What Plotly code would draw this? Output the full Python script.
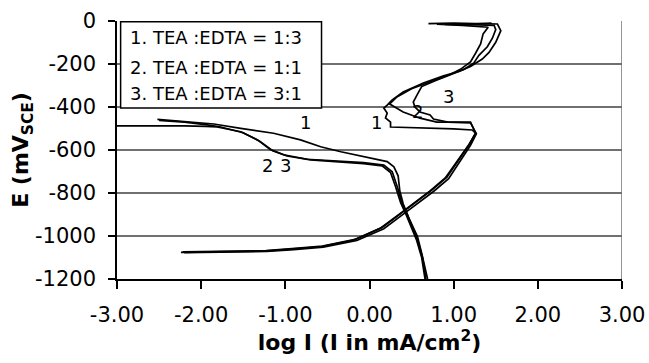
import plotly.graph_objects as go

# Series names (legend box text)
series_names = ["1. TEA :EDTA = 1:3", "2. TEA :EDTA = 1:1", "3. TEA :EDTA = 3:1"]

# Axis ticks
x_ticks = [-3, -2, -1, 0, 1, 2, 3]
x_tick_text = ["-3.00", "-2.00", "-1.00", "0.00", "1.00", "2.00", "3.00"]
y_ticks = [0, -200, -400, -600, -800, -1000, -1200]
y_tick_text = ["0", "-200", "-400", "-600", "-800", "-1000", "-1200"]

# Branch A: from corrosion potential down to -1200 mV (log I, E in mV)
logi_a1 = [-2.52, -2.21, -1.85, -1.53, -1.14, -0.82, -0.58, -0.34, -0.07, 0.12, 0.21, 0.29,
           0.34, 0.36, 0.40, 0.46, 0.52, 0.57, 0.62, 0.66, 0.69]
e_a1 = [-458, -468, -479, -499, -522, -553, -585, -608, -631, -645, -654, -678,
        -720, -790, -850, -910, -960, -1003, -1080, -1150, -1200]

logi_a2 = [-3.10, -2.60, -2.20, -1.95, -1.81, -1.53, -1.33, -1.18, -1.02, -0.74, -0.34, -0.07,
           0.17, 0.27, 0.33, 0.38, 0.45, 0.52, 0.58, 0.63, 0.67]
e_a2 = [-488, -487, -488, -490, -493, -515, -553, -598, -622, -643, -652, -659,
        -670, -701, -771, -840, -900, -970, -1030, -1100, -1200]

logi_a3 = [-2.50, -2.20, -1.95, -1.78, -1.50, -1.30, -1.15, -0.98, -0.70, -0.34, -0.07, 0.15,
           0.25, 0.31, 0.37, 0.44, 0.50, 0.56, 0.62, 0.66]
e_a3 = [-462, -470, -482, -492, -520, -560, -603, -628, -646, -656, -663, -674,
        -705, -771, -845, -905, -960, -1020, -1100, -1200]

# Branch B: from -1076 mV up through the active/passive loop to 0 mV
logi_b1 = [-2.24, -1.60, -1.25, -0.94, -0.58, -0.19, 0.13, 0.37, 0.61, 0.72, 0.90, 1.08,
           1.18, 1.26, 1.22, 1.00, 0.61, 0.25, 0.25, 0.19, 0.21, 0.17, 0.21, 0.27, 0.40,
           0.64, 0.88, 1.06, 1.20, 1.34, 1.42, 1.50, 1.56, 1.52, 1.00, 0.70]
e_b1 = [-1076, -1073, -1070, -1061, -1050, -1019, -964, -894, -825, -790, -730, -631,
        -575, -522, -507, -502, -498, -493, -470, -451, -428, -405, -391, -367, -330,
        -288, -255, -235, -212, -177, -146, -99, -45, -14, -10, -12]

logi_b2 = [-2.22, -1.60, -1.23, -0.92, -0.56, -0.17, 0.15, 0.39, 0.63, 0.74, 0.92, 1.09,
           1.19, 1.26, 1.20, 0.99, 0.80, 0.60, 0.40, 0.24, 0.32, 0.50, 0.75, 0.95, 1.08,
           1.20, 1.26, 1.32, 1.35, 1.41, 1.10, 0.80, 1.20, 1.45]
e_b2 = [-1074, -1071, -1068, -1059, -1047, -1016, -960, -890, -820, -786, -726, -628,
        -572, -522, -470, -470, -470, -452, -423, -386, -355, -315, -280, -250, -225,
        -190, -150, -107, -60, -29, -20, -15, -14, -10]

logi_b3 = [-2.20, -1.58, -1.22, -0.90, -0.55, -0.15, 0.17, 0.41, 0.65, 0.76, 0.94, 1.10,
           1.20, 1.27, 1.20, 0.93, 0.76, 0.72, 0.60, 0.54, 0.52, 0.57, 0.62, 0.78, 0.96,
           1.12, 1.24, 1.30, 1.40, 1.46, 1.50, 1.48, 1.30, 0.90, 1.25]
e_b3 = [-1078, -1075, -1072, -1063, -1052, -1021, -966, -896, -828, -793, -733, -634,
        -578, -524, -474, -470, -456, -437, -423, -400, -377, -340, -305, -278, -250,
        -225, -195, -160, -120, -80, -40, -20, -18, -16, -13]

# Curve number labels: (text, log I, E)
curve_labels = [("1", -0.76, -470), ("1", 0.08, -470), ("2", 0.57, -423), ("3", 0.94, -349),
                ("2", -1.21, -670), ("3", -1.00, -670)]

FONT = "DejaVu Sans"
line_style = dict(color="black", width=1.7)

fig = go.Figure()
branches = [
    (logi_a1, e_a1, logi_b1, e_b1),
    (logi_a2, e_a2, logi_b2, e_b2),
    (logi_a3, e_a3, logi_b3, e_b3),
]
for name, (xa, ya, xb, yb) in zip(series_names, branches):
    fig.add_trace(go.Scatter(x=xa, y=ya, mode="lines", line=line_style, name=name,
                             showlegend=False, cliponaxis=True))
    fig.add_trace(go.Scatter(x=xb, y=yb, mode="lines", line=line_style, name=name,
                             showlegend=False, cliponaxis=True))

annotations = []
# Legend box text
legend_rows_e = [-79, -214, -335]
for text, e in zip(series_names, legend_rows_e):
    annotations.append(dict(x=-2.874, y=e, xref="x", yref="y", text=text, showarrow=False,
                            xanchor="left", yanchor="middle",
                            font=dict(family=FONT, size=18, color="black")))
for text, x, y in curve_labels:
    annotations.append(dict(x=x, y=y, xref="x", yref="y", text=text, showarrow=False,
                            xanchor="center", yanchor="middle",
                            font=dict(family=FONT, size=18, color="black")))

shapes = [
    # legend frame
    dict(type="rect", xref="x", yref="y", x0=-2.957, x1=-0.57, y0=-405, y1=-3,
         line=dict(color="black", width=1.5), fillcolor="white", layer="above"),
    # right plot border
    dict(type="line", xref="x", yref="y", x0=3, x1=3, y0=-1200, y1=0,
         line=dict(color="#707070", width=1.5), layer="below"),
]

fig.update_layout(
    width=649, height=363, autosize=False,
    margin=dict(l=117, r=27, t=21, b=84),
    paper_bgcolor="white", plot_bgcolor="white",
    font=dict(family=FONT, size=21, color="black"),
    annotations=annotations, shapes=shapes,
    showlegend=False,
)
fig.update_xaxes(
    range=[-3, 3], tickvals=x_ticks, ticktext=x_tick_text, automargin=False,
    showgrid=False, zeroline=False, showline=True, linecolor="black", linewidth=1.5,
    ticks="outside", ticklen=8, tickwidth=1.5, tickcolor="black",
    tickfont=dict(family=FONT, size=21, color="black"), ticklabelstandoff=8,
    title=dict(text="<b>log I (I in mA/cm<sup>2</sup>)</b>", standoff=8,
               font=dict(family=FONT, size=22, color="black")),
)
fig.update_yaxes(
    range=[-1200, 0], tickvals=y_ticks, ticktext=y_tick_text, automargin=False,
    showgrid=True, gridcolor="#707070", gridwidth=1.5, zeroline=False,
    showline=True, linecolor="black", linewidth=1.5,
    ticks="outside", ticklen=7, tickwidth=1.5, tickcolor="black",
    tickfont=dict(family=FONT, size=21, color="black"), ticklabelstandoff=8,
    title=dict(text="<b>E (mV<sub>SCE</sub>)</b>", standoff=0,
               font=dict(family=FONT, size=22, color="black")),
)

fig.write_html("out.html")
